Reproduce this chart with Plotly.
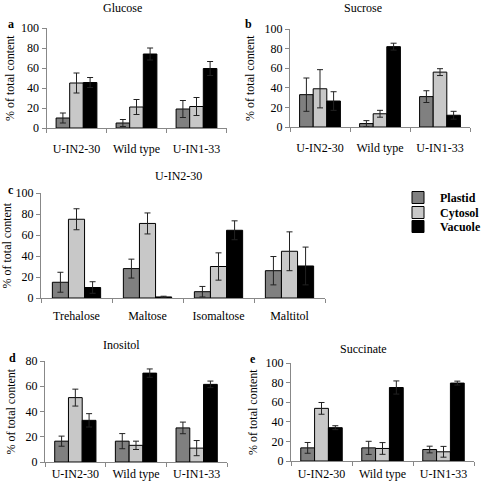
import plotly.graph_objects as go

W, H = 481, 485

lines = ["U-IN2-30", "Wild type", "U-IN1-33"]
sugars_c = ["Trehalose", "Maltose", "Isomaltose", "Maltitol"]
compartments = ["Plastid", "Cytosol", "Vacuole"]
colors = ["#808080", "#c8c8c8", "#000000"]

# Glucose (a)
glucose_plastid = [10, 5, 19]
glucose_plastid_err = [5, 3.5, 8.5]
glucose_cytosol = [45, 21, 21.5]
glucose_cytosol_err = [10, 7.5, 9]
glucose_vacuole = [45.5, 74, 59.5]
glucose_vacuole_err = [5, 6, 7]

# Sucrose (b)
sucrose_plastid = [33, 3.5, 31]
sucrose_plastid_err = [17, 3, 6]
sucrose_cytosol = [39, 13.5, 56]
sucrose_cytosol_err = [19.5, 3.5, 3.5]
sucrose_vacuole = [26.5, 82, 12]
sucrose_vacuole_err = [9.5, 3.5, 4]

# U-IN2-30 sugars (c)
c_plastid = [15, 28, 6, 26]
c_plastid_err = [9.5, 9, 5, 13.5]
c_cytosol = [75, 71, 30, 44.5]
c_cytosol_err = [10, 10, 13, 18.5]
c_vacuole = [10, 1, 64.5, 30.5]
c_vacuole_err = [5.5, 0.7, 9, 18]

# Inositol (d)
inositol_plastid = [16.5, 16.5, 27]
inositol_plastid_err = [4, 6, 4.6]
inositol_cytosol = [51, 13.2, 11]
inositol_cytosol_err = [6.7, 3.3, 6]
inositol_vacuole = [33, 70.4, 61.5]
inositol_vacuole_err = [5.3, 3.3, 2.6]

# Succinate (e)
succinate_plastid = [13.4, 13.4, 11.7]
succinate_plastid_err = [5.5, 6.7, 3.4]
succinate_cytosol = [53.7, 12.8, 9.4]
succinate_cytosol_err = [6, 6, 5.5]
succinate_vacuole = [34, 75, 79.5]
succinate_vacuole_err = [2, 6.7, 2]

FONT = "Liberation Serif, Times New Roman, Times, serif"

def px(x):
    return x / W

def py(y):
    return 1 - y / H

panels = [
    dict(cats=lines,
         vals=[glucose_plastid, glucose_cytosol, glucose_vacuole],
         errs=[glucose_plastid_err, glucose_cytosol_err, glucose_vacuole_err],
         xd=(46.5, 226.5), yd=(28, 128), ymax=100, title="Glucose", tpos=(122, 8),
         letter="a", lpos=(11, 24), ytx=10, standoff=10),
    dict(cats=lines,
         vals=[sucrose_plastid, sucrose_cytosol, sucrose_vacuole],
         errs=[sucrose_plastid_err, sucrose_cytosol_err, sucrose_vacuole_err],
         xd=(290, 470), yd=(29, 127), ymax=100, title="Sucrose", tpos=(363, 8),
         letter="b", lpos=(248, 24), ytx=250, standoff=10),
    dict(cats=sugars_c,
         vals=[c_plastid, c_cytosol, c_vacuole],
         errs=[c_plastid_err, c_cytosol_err, c_vacuole_err],
         xd=(41, 325), yd=(193, 298), ymax=100, title="U-IN2-30", tpos=(178, 176),
         letter="c", lpos=(11, 190), ytx=6, standoff=7),
    dict(cats=lines,
         vals=[inositol_plastid, inositol_cytosol, inositol_vacuole],
         errs=[inositol_plastid_err, inositol_cytosol_err, inositol_vacuole_err],
         xd=(45, 227), yd=(361, 462), ymax=80, title="Inositol", tpos=(121, 345),
         letter="d", lpos=(12, 358), ytx=10, standoff=1),
    dict(cats=lines,
         vals=[succinate_plastid, succinate_cytosol, succinate_vacuole],
         errs=[succinate_plastid_err, succinate_cytosol_err, succinate_vacuole_err],
         xd=(291, 474), yd=(363, 461), ymax=100, title="Succinate", tpos=(363, 349),
         letter="e", lpos=(253, 359), ytx=253, standoff=2),
]

# legend item centres (px from top)
legend_rows = [196, 211, 225]

fig = go.Figure()
annotations = []
layout = dict(
    width=W, height=H,
    margin=dict(l=0, r=0, t=0, b=0, pad=0, autoexpand=False),
    paper_bgcolor="white", plot_bgcolor="white",
    barmode="group", bargap=0.32, bargroupgap=0,
    font=dict(family=FONT, size=12, color="black"),
    showlegend=True,
)
legend_names = ["legend", "legend2", "legend3"]
for k, ln in enumerate(legend_names):
    layout[ln] = dict(x=px(396), y=py(legend_rows[k] - 13), xanchor="left", yanchor="top",
                      font=dict(family=FONT, size=12, color="black", weight="bold"),
                      bgcolor="rgba(0,0,0,0)", itemwidth=34)

for i, p in enumerate(panels):
    n = "" if i == 0 else str(i + 1)
    xa, ya = "x" + n, "y" + n
    for j, comp in enumerate(compartments):
        fig.add_trace(go.Bar(
            x=p["cats"], y=p["vals"][j], name=comp,
            marker=dict(color=colors[j], line=dict(color="black", width=1)),
            error_y=dict(type="data", array=p["errs"][j], color="#222222",
                         thickness=1, width=3),
            xaxis=xa, yaxis=ya, legendgroup=comp, showlegend=(i == 0),
            legend=legend_names[j],
        ))
    layout["xaxis" + n] = dict(
        domain=[px(p["xd"][0]), px(p["xd"][1])], anchor=ya, type="category",
        showline=True, linecolor="#888888", linewidth=1, ticks="outside",
        tickson="boundaries", ticklen=4, tickcolor="#888888",
        showgrid=False, zeroline=False, ticklabelstandoff=p["standoff"],
        automargin=False,
        tickfont=dict(family=FONT, size=12, color="black"),
    )
    layout["yaxis" + n] = dict(
        domain=[py(p["yd"][1]), py(p["yd"][0])], anchor=xa,
        range=[0, p["ymax"]], dtick=20, showline=True, linecolor="#888888",
        linewidth=1, ticks="outside", ticklen=4, tickcolor="#888888",
        showgrid=False, zeroline=False, automargin=False,
        tickfont=dict(family=FONT, size=12, color="black"),
    )
    annotations.append(dict(
        text=p["title"], x=px(p["tpos"][0]), y=py(p["tpos"][1]),
        xref="paper", yref="paper", showarrow=False,
        xanchor="center", yanchor="middle",
        font=dict(family=FONT, size=12, color="black")))
    annotations.append(dict(
        text="<b>" + p["letter"] + "</b>", x=px(p["lpos"][0]), y=py(p["lpos"][1]),
        xref="paper", yref="paper", showarrow=False,
        xanchor="center", yanchor="middle",
        font=dict(family=FONT, size=12, color="black")))
    annotations.append(dict(
        text="% of total content", x=px(p["ytx"]),
        y=py((p["yd"][0] + p["yd"][1]) / 2),
        xref="paper", yref="paper", showarrow=False, textangle=-90,
        xanchor="center", yanchor="middle",
        font=dict(family=FONT, size=12, color="black")))

layout["annotations"] = annotations
fig.update_layout(**layout)
fig.write_html("out.html", config={"displayModeBar": False},
               post_script="document.body.style.margin='0';")
